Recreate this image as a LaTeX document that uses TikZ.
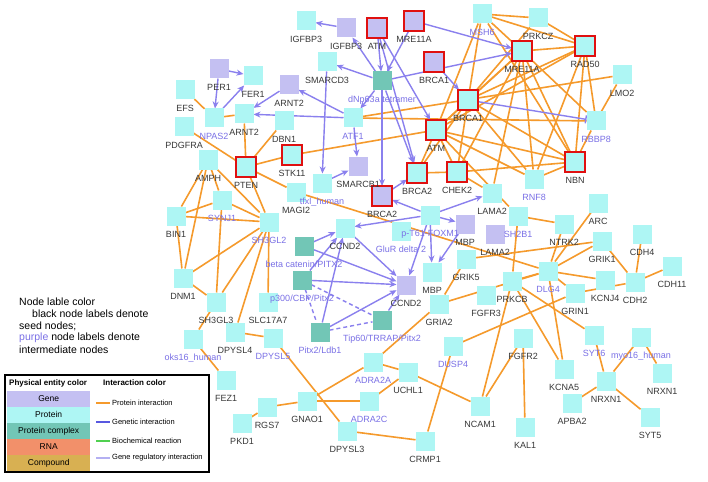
\documentclass[tikz,border=0pt]{standalone}
\usepackage{fontspec}
\setmainfont{Liberation Sans}
\usetikzlibrary{arrows.meta}
\definecolor{protc}{HTML}{AEF6F4}
\definecolor{genec}{HTML}{C4C0F2}
\definecolor{cplxc}{HTML}{72C6B6}
\definecolor{edgeo}{HTML}{F59A2C}
\definecolor{edgep}{HTML}{8A80EE}
\definecolor{labp}{HTML}{7A70E6}
\definecolor{labk}{HTML}{383838}
\definecolor{seedr}{HTML}{E01010}
\definecolor{rnac}{HTML}{F2906A}
\definecolor{cmpc}{HTML}{D8B052}
\definecolor{genl}{HTML}{5858E0}
\definecolor{bioc}{HTML}{50D050}
\definecolor{regl}{HTML}{B4B0F2}
\pgfdeclarelayer{bg}
\pgfdeclarelayer{edges}
\pgfdeclarelayer{labels}
\pgfsetlayers{bg,edges,main,labels}
\tikzset{
 nbase/.style={minimum size=19pt, inner sep=0pt, outer sep=0pt, draw=none},
 prot/.style={nbase, fill=protc},
 gene/.style={nbase, fill=genec},
 cplx/.style={nbase, fill=cplxc},
 seed/.style={draw=seedr, line width=2pt, minimum size=20pt},
 lk/.style={font=\fontsize{9}{10}\selectfont, text=labk, inner sep=0pt, text height=6.5pt, text depth=0pt},
 lp/.style={lk, text=labp},
 oe/.style={draw=edgeo, line width=1.6pt},
 pe/.style={draw=edgep, line width=1.4pt, -{Stealth[length=7pt,width=6pt]}},
 pdash/.style={draw=edgep, line width=1.4pt, dash pattern=on 4pt off 3pt},
 pbar/.style={draw=edgep, line width=1.4pt, -{Bar[width=8pt]}},
 legtxt/.style={anchor=west, font=\fontsize{10.5}{12}\selectfont, inner sep=0pt},
 swatch/.style={anchor=north west, minimum width=83pt, minimum height=15.5pt, inner sep=0pt, font=\fontsize{8.5}{10}\selectfont},
 ltxt/.style={anchor=west, font=\fontsize{7.5}{9}\selectfont, inner sep=0pt},
}
\newcommand\nd[6]{\node[#4] (#1) at (#2,#3) {};
 \begin{pgfonlayer}{labels}\node[#6] (#1-l) at (#2,#3+18) {#5};\end{pgfonlayer}}
\begin{document}
\begin{tikzpicture}[x=1pt,y=-1pt]
\useasboundingbox (0,0) rectangle (708,481);
\begin{pgfonlayer}{bg}\fill[white] (0,0) rectangle (708,481);\end{pgfonlayer}
\nd{IGFBP3}{306}{21}{prot}{IGFBP3}{lk}
\nd{IGFBP3p}{346}{28}{gene}{IGFBP3}{lk}
\nd{ATMp}{377}{28}{gene,seed}{ATM}{lk}
\nd{MRE11Ap}{414}{21}{gene,seed}{MRE11A}{lk}
\nd{MSH6}{482}{14}{prot}{MSH6}{lp}
\nd{PRKCZ}{538}{18}{prot}{PRKCZ}{lk}
\nd{MRE11Ac}{522}{51}{prot,seed}{MRE11A}{lk}
\nd{RAD50}{585}{46}{prot,seed}{RAD50}{lk}
\nd{LMO2}{622}{75}{prot}{LMO2}{lk}
\nd{BRCA1p}{434}{62}{gene,seed}{BRCA1}{lk}
\nd{dNp63a}{382}{81}{cplx}{dNp63a tetramer}{lp}
\nd{BRCA1c}{468}{100}{prot,seed}{BRCA1}{lk}
\nd{RBBP8}{596}{121}{prot}{RBBP8}{lp}
\nd{ATMc}{436}{130}{prot,seed}{ATM}{lk}
\nd{NBN}{575}{162}{prot,seed}{NBN}{lk}
\nd{RNF8}{534}{179}{prot}{RNF8}{lp}
\nd{BRCA2c}{417}{173}{prot,seed}{BRCA2}{lk}
\nd{CHEK2}{457}{172}{prot,seed}{CHEK2}{lk}
\nd{BRCA2p}{382}{196}{gene,seed}{BRCA2}{lk}
\nd{SMARCB1}{358}{166}{gene}{SMARCB1}{lk}
\nd{ATF1}{353}{118}{prot}{ATF1}{lp}
\nd{SMARCD3}{327}{62}{prot}{SMARCD3}{lk}
\nd{PER1}{219}{69}{gene}{PER1}{lk}
\nd{FER1}{253}{76}{prot}{FER1}{lk}
\nd{ARNT2p}{289}{85}{gene}{ARNT2}{lk}
\nd{EFS}{185}{90}{prot}{EFS}{lk}
\nd{NPAS2}{214}{118}{prot}{NPAS2}{lp}
\nd{ARNT2c}{244}{114}{prot}{ARNT2}{lk}
\nd{DBN1}{284}{121}{prot}{DBN1}{lk}
\nd{PDGFRA}{184}{127}{prot}{PDGFRA}{lk}
\nd{AMPH}{208}{160}{prot}{AMPH}{lk}
\nd{PTEN}{246}{167}{prot,seed}{PTEN}{lk}
\nd{STK11}{292}{155}{prot,seed}{STK11}{lk}
\nd{tfxl}{322}{183}{prot}{tfxl\_human}{lp}
\nd{MAGI2}{296}{192}{prot}{MAGI2}{lk}
\nd{SYNJ1}{222}{200}{prot}{SYNJ1}{lp}
\nd{BIN1}{176}{216}{prot}{BIN1}{lk}
\nd{SH3GL2}{269}{222}{prot}{SH3GL2}{lp}
\nd{CCND2c}{345}{228}{prot}{CCND2}{lk}
\nd{FOXM1}{430}{215}{prot}{p-T61-FOXM1}{lp}
\nd{GluR}{401}{231}{prot}{GluR delta 2}{lp}
\nd{MBPp}{465}{224}{gene}{MBP}{lk}
\nd{LAMA2c}{492}{193}{prot}{LAMA2}{lk}
\nd{LAMA2p}{495}{234}{gene}{LAMA2}{lk}
\nd{SH2B1}{518}{216}{prot}{SH2B1}{lp}
\nd{ARC}{598}{203}{prot}{ARC}{lk}
\nd{NTRK2}{564}{224}{prot}{NTRK2}{lk}
\nd{CDH4}{642}{234}{prot}{CDH4}{lk}
\nd{GRIK1}{602}{241}{prot}{GRIK1}{lk}
\nd{CDH11}{672}{266}{prot}{CDH11}{lk}
\nd{DLG4}{548}{271}{prot}{DLG4}{lp}
\nd{PRKCB}{512}{281}{prot}{PRKCB}{lk}
\nd{KCNJ4}{605}{280}{prot}{KCNJ4}{lk}
\nd{CDH2}{635}{282}{prot}{CDH2}{lk}
\nd{GRIN1}{575}{293}{prot}{GRIN1}{lk}
\nd{GRIK5}{466}{259}{prot}{GRIK5}{lk}
\nd{MBPc}{432}{272}{prot}{MBP}{lk}
\nd{CCND2p}{406}{285}{gene}{CCND2}{lk}
\nd{FGFR3}{486}{295}{prot}{FGFR3}{lk}
\nd{GRIA2}{439}{304}{prot}{GRIA2}{lk}
\nd{Tip60}{382}{320}{cplx}{Tip60/TRRAP/Pitx2}{lp}
\nd{betacat}{304}{246}{cplx}{beta catenin/PITX2}{lp}
\nd{p300}{302}{280}{cplx}{p300/CBP/Pitx2}{lp}
\nd{PitxL}{320}{332}{cplx}{Pitx2/Ldb1}{lp}
\nd{DNM1}{183}{278}{prot}{DNM1}{lk}
\nd{SH3GL3}{216}{302}{prot}{SH3GL3}{lk}
\nd{SLC17A7}{268}{302}{prot}{SLC17A7}{lk}
\nd{oks16}{193}{339}{prot}{oks16\_human}{lp}
\nd{DPYSL4}{235}{332}{prot}{DPYSL4}{lk}
\nd{DPYSL5}{273}{338}{prot}{DPYSL5}{lp}
\nd{FEZ1}{226}{380}{prot}{FEZ1}{lk}
\nd{RGS7}{267}{407}{prot}{RGS7}{lk}
\nd{PKD1}{242}{423}{prot}{PKD1}{lk}
\nd{GNAO1}{307}{401}{prot}{GNAO1}{lk}
\nd{ADRA2A}{373}{362}{prot}{ADRA2A}{lp}
\nd{UCHL1}{408}{372}{prot}{UCHL1}{lk}
\nd{ADRA2C}{369}{401}{prot}{ADRA2C}{lp}
\nd{DPYSL3}{347}{431}{prot}{DPYSL3}{lk}
\nd{CRMP1}{425}{441}{prot}{CRMP1}{lk}
\nd{DUSP4}{453}{346}{prot}{DUSP4}{lp}
\nd{NCAM1}{480}{406}{prot}{NCAM1}{lk}
\nd{FGFR2}{523}{338}{prot}{FGFR2}{lk}
\nd{KAL1}{525}{427}{prot}{KAL1}{lk}
\nd{KCNA5}{564}{369}{prot}{KCNA5}{lk}
\nd{APBA2}{572}{403}{prot}{APBA2}{lk}
\nd{SYT6}{594}{335}{prot}{SYT6}{lp}
\nd{NRXNa}{606}{381}{prot}{NRXN1}{lk}
\nd{myo16}{641}{337}{prot}{myo16\_human}{lp}
\nd{NRXNb}{662}{373}{prot}{NRXN1}{lk}
\nd{SYT5}{650}{417}{prot}{SYT5}{lk}
\begin{pgfonlayer}{edges}
\foreach \a/\b in {MSH6/PRKCZ, MSH6/MRE11Ac, MSH6/RAD50, MSH6/BRCA1c, MSH6/ATMc, MSH6/NBN,
 PRKCZ/RAD50, PRKCZ/BRCA1c,
 MRE11Ac/RAD50, MRE11Ac/NBN, MRE11Ac/BRCA1c, MRE11Ac/ATMc, MRE11Ac/RBBP8, MRE11Ac/RNF8, MRE11Ac/CHEK2, MRE11Ac/LAMA2c,
 RAD50/BRCA1c, RAD50/ATMc, RAD50/NBN, RAD50/RBBP8, RAD50/RNF8, LMO2/RBBP8,
 BRCA1c/ATMc, BRCA1c/NBN, BRCA1c/CHEK2, BRCA1c/RNF8, BRCA1c/BRCA2c,
 ATMc/CHEK2, ATMc/NBN, ATMc/BRCA2c, ATMc/RNF8, ATMc/SH2B1,
 BRCA2c/CHEK2, CHEK2/NBN, NBN/RNF8, NBN/RBBP8, CHEK2/LAMA2c,
 ATF1/LMO2, ATF1/RBBP8, STK11/ATMc,
 EFS/NPAS2, NPAS2/ARNT2c, ARNT2c/PTEN, PDGFRA/PTEN, DBN1/PTEN, STK11/PTEN, PTEN/MAGI2, PTEN/SH3GL2,
 AMPH/BIN1, AMPH/DNM1, AMPH/SH3GL2, AMPH/SYNJ1,
 BIN1/SYNJ1, BIN1/SH3GL2, BIN1/DNM1, SYNJ1/SH3GL2, SYNJ1/SH3GL3, DNM1/SH3GL2, DNM1/SH3GL3,
 SH3GL2/SH3GL3, SH3GL2/SLC17A7, SH3GL2/DPYSL4, SH3GL3/oks16,
 DPYSL4/DPYSL5, DPYSL5/DPYSL3, oks16/FEZ1, PKD1/RGS7, RGS7/GNAO1, GNAO1/ADRA2A, GNAO1/ADRA2C,
 ADRA2A/UCHL1, ADRA2C/UCHL1, UCHL1/NCAM1, ADRA2A/GRIA2, DPYSL3/CRMP1, CRMP1/DUSP4, DUSP4/GRIN1,
 NCAM1/FGFR2, NCAM1/PRKCB, FGFR2/KAL1, KCNA5/PRKCB, KCNA5/DLG4, APBA2/NRXNa, NRXNa/SYT6,
 NRXNa/myo16, NRXNa/SYT5, myo16/NRXNb, PRKCB/SYT6,
 DLG4/NTRK2, DLG4/GRIK1, DLG4/KCNJ4, DLG4/GRIN1, DLG4/PRKCB, DLG4/ARC, NTRK2/SH2B1, SH2B1/PRKCB,
 GRIK1/CDH2, CDH4/CDH2, CDH2/CDH11, GRIN1/CDH2,
 MAGI2/DLG4, GRIA2/DLG4, GRIK5/GRIA2, GRIK5/GRIK1}
 \draw[oe] (\a) -- (\b);
\foreach \a/\b in {IGFBP3p/IGFBP3, dNp63a/IGFBP3p, dNp63a/SMARCD3, ATMp/dNp63a, MRE11Ap/dNp63a,
 MRE11Ap/MRE11Ac, dNp63a/MRE11Ac, BRCA1p/BRCA1c, ATMp/ATMc, ATMp/BRCA2c, dNp63a/BRCA2c,
 dNp63a/BRCA2p, ATF1/SMARCB1, tfxl/SMARCB1, BRCA2p/BRCA2c, FOXM1/BRCA2p, FOXM1/CCND2c,
 FOXM1/LAMA2c, FOXM1/MBPc, FOXM1/CCND2p, FOXM1/MBPp, MBPp/MBPc, CCND2c/CCND2p,
 betacat/CCND2c, betacat/CCND2p, p300/CCND2p, p300/CCND2c, PitxL/CCND2c, PitxL/CCND2p,
 Tip60/CCND2p, PER1/FER1, PER1/NPAS2, NPAS2/FER1, ARNT2p/ARNT2c, ATF1/ARNT2c, ATF1/ARNT2p,
 SMARCD3/tfxl, dNp63a/ATF1}
 \draw[pe] (\a) -- (\b);
\foreach \a/\b in {p300/PitxL, p300/Tip60, PitxL/Tip60}
 \draw[pdash] (\a) -- (\b);
\draw[pbar] (BRCA1c) -- (RBBP8);
\end{pgfonlayer}
% note text
\node[legtxt] (t1) at (19,302) {Node lable color};
\node[legtxt] (t2) at (32,314) {black node labels denote};
\node[legtxt] (t3) at (19,326) {seed nodes;};
\node[legtxt] (t4) at (19,338) {\textcolor{labp}{purple} node labels denote};
\node[legtxt] (t5) at (19,350) {intermediate nodes};
% legend box
\draw[line width=1.3pt] (5,375) rectangle (209,472);
\node[ltxt, font=\bfseries\fontsize{8}{9}\selectfont] (h1) at (9,383) {Physical entity color};
\node[ltxt, font=\bfseries\fontsize{8}{9}\selectfont] (h2) at (103,383) {Interaction color};
\node[swatch, fill=genec] (s1) at (7,391) {Gene};
\node[swatch, fill=protc] (s2) at (7,407) {Protein};
\node[swatch, fill=cplxc] (s3) at (7,423) {Protein complex};
\node[swatch, fill=rnac] (s4) at (7,439) {RNA};
\node[swatch, fill=cmpc] (s5) at (7,455) {Compound};
\coordinate (la1) at (96,403); \coordinate (lb1) at (110,403);
\coordinate (la2) at (96,422); \coordinate (lb2) at (110,422);
\coordinate (la3) at (96,441); \coordinate (lb3) at (110,441);
\coordinate (la4) at (96,458); \coordinate (lb4) at (110,458);
\draw[edgeo, line width=1.2pt] (la1) -- (lb1);
\draw[genl, line width=1.2pt] (la2) -- (lb2);
\draw[bioc, line width=1.2pt] (la3) -- (lb3);
\draw[regl, line width=1.2pt] (la4) -- (lb4);
\node[ltxt] (r1) at (112,403) {Protein interaction};
\node[ltxt] (r2) at (112,422) {Genetic interaction};
\node[ltxt] (r3) at (112,441) {Biochemical reaction};
\node[ltxt] (r4) at (112,458) {Gene regulatory interaction};
\end{tikzpicture}
\end{document}
